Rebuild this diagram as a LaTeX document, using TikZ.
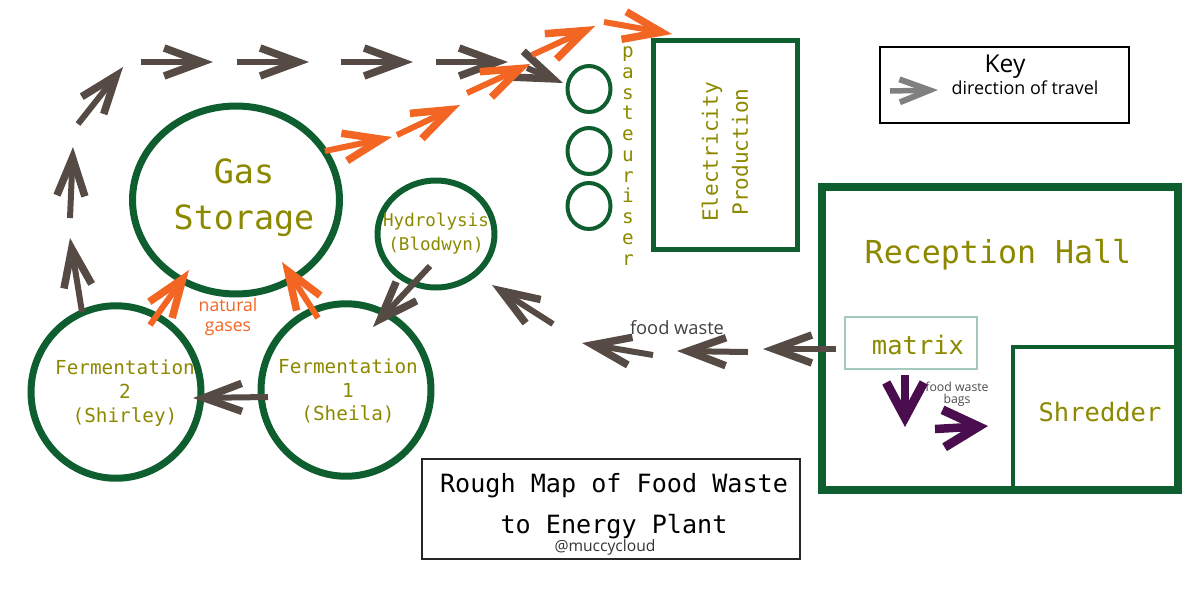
\documentclass[tikz,border=0pt]{standalone}
\usepackage{fontspec}
\setmainfont{Open Sans}
\setmonofont{DejaVu Sans Mono}
\usetikzlibrary{arrows.meta,shapes.geometric}
\definecolor{plantgreen}{RGB}{14,94,48}
\definecolor{labelolive}{RGB}{140,137,0}
\definecolor{flowbrown}{RGB}{86,74,68}
\definecolor{gasorange}{RGB}{242,101,34}
\definecolor{bagpurple}{RGB}{74,14,78}
\definecolor{matrixline}{RGB}{165,200,188}

\begin{document}
\begin{tikzpicture}[
		x=0.02cm, y=-0.02cm,
		tank/.style={ellipse,draw=plantgreen,line width=1.4mm,inner sep=0pt},
		room/.style={rectangle,draw=plantgreen,inner sep=0pt},
		mono/.style 2 args={font=\ttfamily\fontsize{#1}{#2}\selectfont,text=labelolive,align=center,inner sep=0pt},
		sans/.style 2 args={font=\fontsize{#1}{#2}\selectfont,align=center,inner sep=0pt},
		flow/.style={draw=flowbrown,line width=1.2mm,-{Straight Barb[length=7.6mm,width=5.6mm,line width=1.5mm]}},
		gas/.style={flow,draw=gasorange},
		bags/.style={draw=bagpurple,line width=1.7mm,-{Straight Barb[length=7mm,width=7.5mm,line width=1.8mm]}}
		]
		\useasboundingbox (0,0) rectangle (1200,600);

		\node[tank,minimum width=4.14cm,minimum height=3.76cm] (gas) at (236,200) {};
		\node[mono={19}{26}] (gas-txt) at (244,198) {Gas\\Storage};
		\node[tank,line width=1.2mm,minimum width=2.34cm,minimum height=2.14cm] (hydro) at (436,234) {};
		\node[mono={10}{13.6}] (hydro-txt) at (436,234) {Hydrolysis\\(Blodwyn)};
		\node[tank,minimum width=3.4cm,minimum height=3.45cm] (ferm2) at (116,392) {};
		\node[mono={11}{13.6}] (ferm2-txt) at (125,393) {Fermentation\\2\\(Shirley)};
		\node[tank,minimum width=3.4cm,minimum height=3.45cm] (ferm1) at (346,390) {};
		\node[mono={11}{13.6}] (ferm1-txt) at (348,391) {Fermentation\\1\\(Sheila)};

		\foreach \y [count=\i] in {89,151,206}
			\node[tank,line width=0.8mm,minimum width=0.86cm,minimum height=0.92cm] (past\i) at (589,\y) {};
		\node[mono={11}{11.8}] (past-txt) at (628,156) {p\\a\\s\\t\\e\\u\\r\\i\\s\\e\\r};

		\node[room,line width=1.05mm,minimum width=2.87cm,minimum height=4.17cm] (elec) at (725.5,145) {};
		\node[mono={12}{17},rotate=90] (elec-txt) at (725,152) {Electricity\\Production};

		\node[draw=black,line width=0.3mm,minimum width=4.98cm,minimum height=1.52cm] (key) at (1004.5,85) {};
		\node[sans={14}{16}] (key-txt) at (1005,67) {Key};
		\node[sans={10.2}{12}] (key-dir) at (1025,88) {direction of travel};
		\coordinate (key-a) at (890,91);
		\coordinate (key-b) at (938,90);
		\draw[draw=gray,line width=1.1mm,-{Straight Barb[length=6mm,width=4.6mm,line width=1.2mm]}] (key-a) -- (key-b);

		\node[room,line width=1.6mm,minimum width=7.12cm,minimum height=6.06cm] (hall) at (1000,338.5) {};
		\node[mono={18}{22}] (hall-txt) at (998,255) {Reception Hall};
		\node[room,line width=0.8mm,minimum width=3.3cm,minimum height=2.86cm] (shred) at (1095.5,418.5) {};
		\node[mono={14.5}{18}] (shred-txt) at (1100,412) {Shredder};
		\node[draw=matrixline,line width=0.3mm,minimum width=2.64cm,minimum height=1.04cm,inner sep=0pt] (matrix) at (911,343) {};
		\node[mono={14.5}{18}] (matrix-txt) at (918,345) {matrix};
		\node[sans={7}{6.8},text=black!70] (bags-txt) at (957,394) {food waste\\bags};
		\coordinate (bag1a) at (905,375);
		\coordinate (bag1b) at (905,427);
		\coordinate (bag2a) at (935,429);
		\coordinate (bag2b) at (988,426);
		\draw[bags] (bag1a) -- (bag1b);
		\draw[bags] (bag2a) -- (bag2b);

		\node[sans={10.4}{12},text=black!75] (waste-txt) at (677,328) {food waste};
		\node[sans={10}{11},text=gasorange] (gases-txt) at (228,317) {natural\\gases};

		\foreach \xa/\ya/\xb/\yb in {836/349/763/349, 748/352/677/351, 653/355/582/343, 553/324/492/285,
				430/266/373/327, 268/397/193/398, 82/312/70/238, 70/218/73/147, 78/124/123/67,
				141/62/213/62, 237/62/309/62, 341/62/413/62, 436/62/508/62, 527/68/563/83}{
			\coordinate (fa) at (\xa,\ya);
			\coordinate (fb) at (\xb,\yb);
			\draw[flow] (fa) -- (fb);
		}
		\foreach \xa/\ya/\xb/\yb in {325/151/392/137, 397/135/460/105, 467/93/530/64, 532/55/595/26,
				604/22/672/34, 150/325/189/270, 318/318/282/262}{
			\coordinate (ga) at (\xa,\ya);
			\coordinate (gb) at (\xb,\yb);
			\draw[gas] (ga) -- (gb);
		}

		\node[draw=black!85,line width=0.25mm,minimum width=7.56cm,minimum height=2cm] (title) at (611,509) {};
		\node[mono={14.3}{23},text=black] (title-txt) at (614,506) {Rough Map of Food Waste\\to Energy Plant};
		\node[sans={8.9}{10},text=black!80] (tag) at (605,547) {@muccycloud};
	\end{tikzpicture}
\end{document}
